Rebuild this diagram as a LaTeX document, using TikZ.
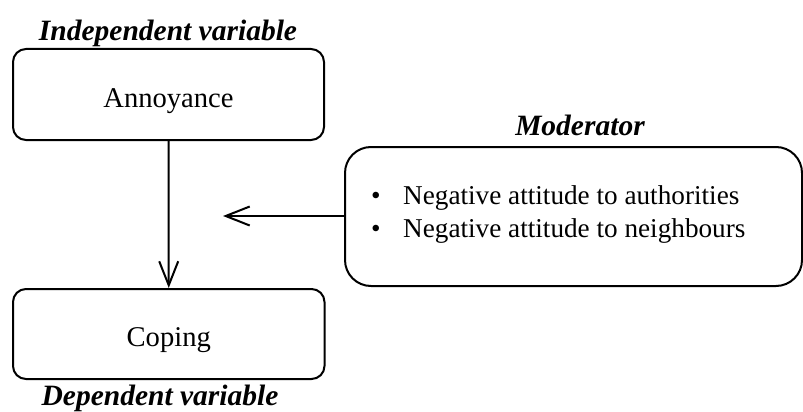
\documentclass[tikz,border=0pt]{standalone}
\usepackage{fontspec}
\setmainfont{Liberation Serif}
\usetikzlibrary{arrows.meta}
\tikzset{
  x=1pt, y=-1pt,
  box/.style={draw, line width=2pt, rounded corners=13pt, font=\fontsize{28.6}{34}\selectfont, inner sep=0pt, text height=25pt, text depth=0pt},
  lbl/.style={font=\fontsize{29.5}{34}\selectfont\bfseries\itshape, anchor=base, inner sep=0pt},
  txt/.style={font=\fontsize{27.2}{33}\selectfont, anchor=base west, inner sep=0pt},
  link/.style={line width=2pt, -{Straight Barb[length=24pt,width=19pt,line width=2pt]}},
}
\begin{document}
\begin{tikzpicture}
\useasboundingbox (0,0) rectangle (803,412);
\node[box, minimum width=311pt, minimum height=91pt] (ann) at (168.5,94.5) {Annoyance};
\node[box, minimum width=311.5pt, minimum height=90pt] (cop) at (168.75,334) {Coping};
\node[box, rounded corners=26pt, minimum width=457pt, minimum height=139pt, text height=0pt] (mod) at (573.5,216.5) {};
\node[lbl] (indep) at (168,41) {Independent variable};
\node[lbl] (dep) at (160,405) {Dependent variable};
\node[lbl] (modl) at (580,135.5) {Moderator};
\node[txt] (m1) at (371,204) {\textbullet\hspace{22.5pt}Negative attitude to authorities};
\node[txt] (m2) at (371,237) {\textbullet\hspace{22.5pt}Negative attitude to neighbours};
\coordinate (mid) at (223,216);
\draw[link] (ann.south) -- (cop.north);
\draw[link] (mod.west |- mid) -- (mid);
\end{tikzpicture}
\end{document}
